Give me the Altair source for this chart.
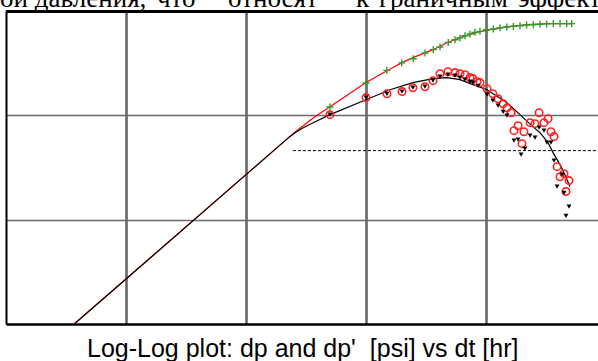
import altair as alt
import pandas as pd

# ---- data (dt in hr, dp in psi) ----
red_line_t = [0.0037, 0.01, 0.1, 0.2326, 0.26, 0.3, 0.37, 0.501, 1.0, 1.496, 1.995, 2.46, 3.62, 4.73, 6.43, 8.91, 14.96, 21.97, 32.2, 52.1]
red_line_p = [0.1, 0.27, 2.7, 6.28, 7.0, 7.95, 9.6, 12.1, 20.6, 26.8, 32.0, 35.7, 42.6, 49.7, 56.8, 63.4, 70.8, 74.0, 75.7, 75.7]

black_line_t = [0.0037, 0.01, 0.1, 0.2326, 0.26, 0.3, 0.37, 0.501, 1.0, 1.585, 2.46, 3.62, 4.73, 6.07, 7.79, 10.2, 14.96, 19.2, 24.6, 28.2, 32.9, 36.2, 41.4, 45.5, 50.1]
black_line_p = [0.1, 0.27, 2.7, 6.28, 6.9, 7.6, 8.6, 10.15, 14.1, 17.6, 20.6, 22.5, 23.0, 22.0, 19.7, 17.6, 13.2, 10.15, 7.79, 6.82, 5.47, 4.39, 3.37, 2.70, 2.07]

dp_t = [0.501, 1.0, 1.488, 1.984, 2.48, 3.10, 3.64, 4.14, 4.85, 5.52, 6.07, 6.68, 7.36, 8.09, 8.91, 10.1, 11.5, 13.1, 14.9, 16.9, 19.2, 21.8, 24.8, 28.2, 32.0, 36.4, 41.4, 47.0, 51.8]
dp_p = [12.0, 20.4, 27.0, 31.8, 34.9, 39.6, 42.6, 45.2, 50.0, 53.1, 55.2, 58.0, 60.3, 62.4, 63.8, 66.2, 67.3, 69.2, 70.3, 71.2, 72.3, 73.4, 73.9, 74.5, 75.2, 75.7, 75.7, 75.7, 75.7]

der1_t = [0.501, 1.0, 1.496, 1.995, 2.46, 3.10, 3.62, 4.14, 4.82, 5.52, 6.07, 6.68, 7.36, 7.79, 8.41, 8.91, 10.2, 11.4, 12.6, 13.9, 14.96, 16.2, 17.1, 18.5, 19.95, 20.7, 23.3, 25.6, 27.7, 30.4, 32.9, 34.8, 36.9, 39.1, 41.4, 44.7, 46.4, 49.2]
der1_p = [10.15, 14.8, 16.1, 16.9, 18.4, 18.8, 21.5, 25.1, 26.2, 25.7, 25.1, 24.5, 23.0, 22.5, 21.0, 20.6, 18.0, 16.1, 14.4, 12.9, 11.8, 10.6, 7.13, 7.96, 5.35, 6.97, 8.51, 8.32, 10.6, 8.51, 9.29, 6.97, 6.25, 3.22, 2.58, 2.76, 1.86, 2.37]

der2_t = [0.501, 1.0, 1.496, 1.995, 2.46, 3.10, 3.62, 4.14, 4.82, 5.52, 6.07, 6.68, 7.36, 7.79, 8.58, 10.2, 11.4, 12.6, 13.9, 14.96, 17.1, 18.5, 19.6, 21.1, 23.3, 25.6, 27.7, 30.4, 32.2, 34.8, 36.9, 39.1, 43.0, 44.7, 49.2, 46.4]
der2_p = [10.15, 14.8, 16.1, 16.9, 18.4, 18.8, 21.5, 23.5, 24.5, 24.0, 23.0, 22.0, 21.0, 20.6, 19.2, 15.8, 13.8, 12.4, 10.8, 9.93, 5.72, 5.84, 4.20, 4.80, 6.38, 6.11, 7.62, 7.13, 5.47, 5.47, 3.68, 2.07, 2.70, 1.81, 1.33, 1.09]

dash_t = [0.246, 85.77]
dash_p = [4.59, 4.59]

top_words = ["ой давления,", "что", "относят", "к", "граничным", "эффектам"]
top_word_x = [-6, 151, 222, 350, 373, 512]
bottom_text = "Log-Log plot: dp and dp'\u00a0 [psi] vs dt [hr]"

# ---- scales / axes ----
xs = alt.Scale(type="log", domain=[0.001, 85.77], nice=False)
ys = alt.Scale(type="log", domain=[0.1, 100], nice=False)
x_axis = alt.Axis(values=[0.01, 0.1, 1, 10], grid=True, labels=False, ticks=False, title=None,
                  domain=True, domainColor="#000000", domainWidth=2.5,
                  gridColor="#6a6a6a", gridWidth=1.5)
y_axis = alt.Axis(values=[1, 10], grid=True, labels=False, ticks=False, title=None,
                  domain=True, domainColor="#000000", domainWidth=2,
                  gridColor="#6a6a6a", gridWidth=1.5)


def enc(ch):
    return ch.encode(
        x=alt.X("t:Q", scale=xs, axis=x_axis),
        y=alt.Y("p:Q", scale=ys, axis=y_axis),
    )


def df(t, p):
    return pd.DataFrame({"t": t, "p": p})


dash = enc(alt.Chart(df(dash_t, dash_p)).mark_line(color="black", strokeWidth=1, strokeDash=[3, 2], clip=True))
red_line = enc(alt.Chart(df(red_line_t, red_line_p)).mark_line(color="#ff0000", strokeWidth=1.2, clip=True))
black_line = enc(alt.Chart(df(black_line_t, black_line_p)).mark_line(color="black", strokeWidth=1.2, clip=True))
plus = enc(alt.Chart(df(dp_t, dp_p)).mark_point(shape="M-1,0L1,0M0,-1L0,1", size=49, filled=False,
                                                 color="#2e9e2e", strokeWidth=1.4, opacity=1, clip=True))
circ = enc(alt.Chart(df(der1_t, der1_p)).mark_point(shape="circle", size=55, filled=False,
                                                     color="#ff2020", strokeWidth=1.6, opacity=1, clip=True))
tri = enc(alt.Chart(df(der2_t, der2_p)).mark_point(shape="triangle-down", size=24, filled=True,
                                                    color="black", opacity=1, clip=True))

top_border = alt.Chart(pd.DataFrame({"a": [0]})).mark_rule(color="black", strokeWidth=1.5).encode(
    x=alt.value(0), x2=alt.value(592), y=alt.value(0))

top_lbl = alt.Chart(pd.DataFrame({"label": top_words, "xp": top_word_x})).mark_text(
    font="Liberation Serif", fontSize=27, align="left", baseline="alphabetic", color="black", dy=-4
).encode(x=alt.X("xp:Q", scale=None), y=alt.value(0), text="label:N")

bot_lbl = alt.Chart(pd.DataFrame({"label": [bottom_text]})).mark_text(
    font="Liberation Sans", fontSize=25, align="left", baseline="alphabetic", color="black"
).encode(x=alt.value(81), y=alt.value(346), text="label:N")

chart = alt.layer(dash, red_line, black_line, plus, circ, tri, top_border, top_lbl, bot_lbl).properties(
    width=592, height=313,
    padding={"left": 6, "top": 11, "right": 0, "bottom": 37},
    autosize=alt.AutoSizeParams(type="none"),
    background="white",
).resolve_scale(x="independent").configure_view(stroke=None)

chart.save("out.html", embed_options={"renderer": "svg", "actions": False})
